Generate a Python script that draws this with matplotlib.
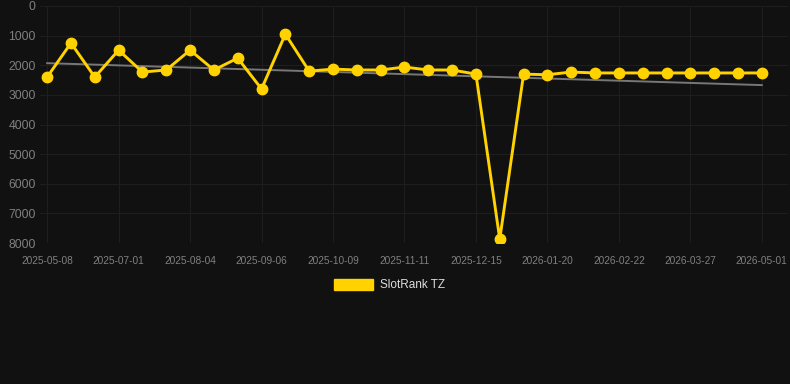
import numpy as np
import matplotlib
matplotlib.use("Agg")
import matplotlib.pyplot as plt
from matplotlib.patches import Rectangle

## SlotRank TZ rank over time (lower = better, axis inverted)

# labels shown on the x axis, every 3rd point
tick_labels = ["2025-05-08", "2025-07-01", "2025-08-04", "2025-09-06",
               "2025-10-09", "2025-11-11", "2025-12-15", "2026-01-20",
               "2026-02-22", "2026-03-27", "2026-05-01"]

rank = [2400, 1250, 2400, 1490, 2230, 2160, 1490, 2160, 1760, 2800,
        950, 2200, 2130, 2160, 2160, 2060, 2160, 2160, 2300, 7870,
        2300, 2320, 2230, 2260, 2260, 2260, 2260, 2260, 2260, 2260, 2260]

# trend line end values (start, end)
trend = [1930, 2670]

series_name = "SlotRank TZ"

BG = "#111111"
GOLD = "#FFD200"

plt.rcParams["font.family"] = ["Liberation Sans", "DejaVu Sans"]

fig = plt.figure(figsize=(7.9, 3.84), dpi=100, facecolor=BG)
ax = fig.add_axes([40 / 790, 1 - 243 / 384, 748 / 790, 237 / 384])
ax.set_facecolor(BG)

x = np.arange(len(rank))
ax.plot([x[0], x[-1]], trend, color="#777777", lw=1.4, zorder=2)
ax.plot(x, rank, color=GOLD, lw=2.1, marker="o", ms=7.5, zorder=3)

ax.set_xlim(-0.3, 31.1)
ax.set_ylim(8000, 0)
ax.set_yticks(range(0, 8001, 1000))
ax.set_xticks(x[::3])
ax.set_xticklabels(tick_labels)

ax.grid(True, color="#1e1e1e", lw=0.8)
ax.set_axisbelow(True)
for s in ax.spines.values():
    s.set_visible(False)
ax.tick_params(axis="y", colors="#808080", labelsize=8.7, length=0, pad=3)
ax.tick_params(axis="x", colors="#808080", labelsize=7.3, length=0, pad=9)

# legend drawn by hand, centred under the chart
fig.patches.append(Rectangle((334 / 790, 1 - 290 / 384), 39 / 790, 11 / 384,
                             transform=fig.transFigure, color=GOLD))
fig.text(380 / 790, 1 - 285 / 384, series_name, color="#dddddd",
         fontsize=8.5, va="center", ha="left")

fig.savefig("out.png", dpi=100, facecolor=BG)
